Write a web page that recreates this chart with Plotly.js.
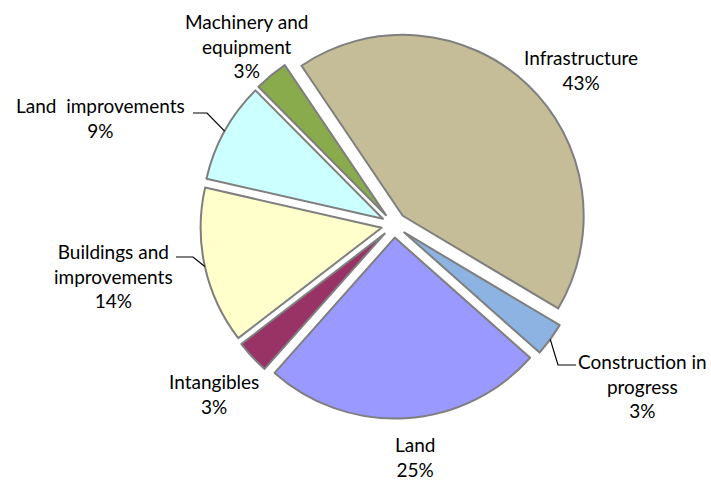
<!DOCTYPE html>
<html><head><meta charset="utf-8">
<script src="https://cdn.plot.ly/plotly-3.0.1.min.js"></script>
<style>html,body{margin:0;padding:0;background:#fff}#chart{width:711px;height:481px}</style>
</head><body><div id="chart"></div>
<script>
const categories = ['Infrastructure','Construction in progress','Land','Intangibles','Buildings and improvements','Land  improvements','Machinery and equipment'];
const values = [43, 3, 25, 3, 14, 9, 3];
const labelLines = ['Infrastructure','Construction in<br>progress','Land','Intangibles','Buildings and<br>improvements','Land\u00a0 improvements','Machinery and<br>equipment'];
const colors = ['#C4BD97','#8DB3E2','#9999FF','#993366','#FFFFCC','#CCFFFF','#8AAB4B'];

// layout (pixels)
const W = 711, H = 481;
const labelPos = [[581,70],[642,386],[415,457],[214,394],[113,276],[100,118],[246,46]];
const leaderElbows = {1: [[576,365],[558,365]], 4: [[176,257],[193,257]], 5: [[193,113],[207,113]]};
const pull = 0.07, rotation = -34;
const domX = [0.25, 0.8583], domY = [0.1297, 0.9349];

const total = values.reduce((a,b)=>a+b,0);
const boxW = W*(domX[1]-domX[0]), boxH = H*(domY[1]-domY[0]);
const r = Math.min(boxW, boxH)/(2+2*pull);
const cx = W*(domX[0]+domX[1])/2, cy = H*(1-domY[0]) - boxH/2;

const annotations = categories.map((c,i)=>({
  xref:'paper', yref:'paper', x: labelPos[i][0]/W, y: 1-labelPos[i][1]/H,
  xanchor:'center', yanchor:'middle', showarrow:false, align:'center',
  text: labelLines[i] + '<br>' + Math.round(values[i]/total*100) + '%',
  font:{family:'Lato, "Open Sans", sans-serif', size:19, color:'#000'}
}));

const shapes = [];
let cum = 0;
values.forEach((v,i)=>{
  const mid = (rotation + 360*(cum + v/2)/total) * Math.PI/180;
  cum += v;
  if (!leaderElbows[i]) return;
  const sx = Math.sin(mid), sy = -Math.cos(mid);
  const ax = cx + pull*r*sx + r*sx, ay = cy + pull*r*sy + r*sy;
  const pts = leaderElbows[i].concat([[ax, ay]]);
  const path = pts.map((p,k)=>(k?'L':'M') + (p[0]/W).toFixed(5) + ',' + (1-p[1]/H).toFixed(5)).join(' ');
  shapes.push({type:'path', xref:'paper', yref:'paper', path: path, line:{color:'#000', width:1.2}});
});

const trace = {
  type:'pie', labels: categories, values: values, sort:false, direction:'clockwise',
  rotation: rotation, pull: pull, textinfo:'none', hoverinfo:'label+percent',
  marker:{colors: colors, line:{color:'#7F7F7F', width:2}},
  domain:{x: domX, y: domY}, showlegend:false, automargin:false
};

Plotly.newPlot('chart', [trace], {
  width:W, height:H, margin:{l:0,r:0,t:0,b:0},
  paper_bgcolor:'#fff', showlegend:false,
  annotations: annotations, shapes: shapes
}, {displayModeBar:false, staticPlot:true});
</script>
</body></html>
